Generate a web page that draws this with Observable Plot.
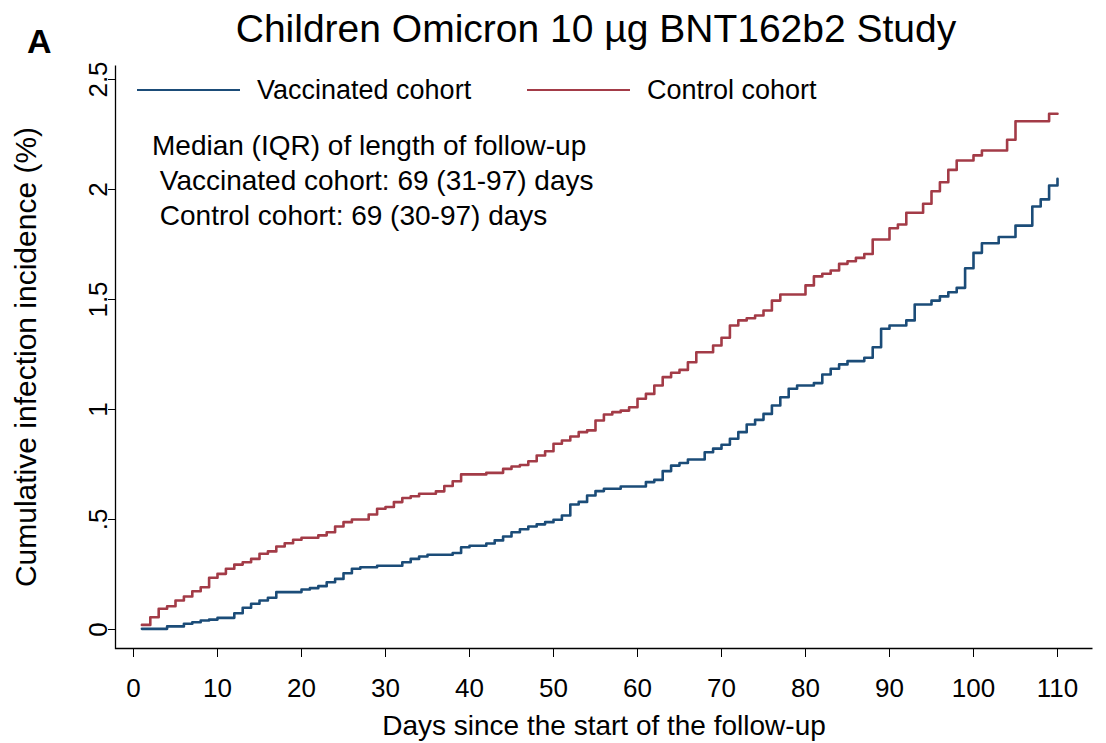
<!DOCTYPE html>
<html>
<head>
<meta charset="utf-8">
<script src="https://cdn.jsdelivr.net/npm/d3@7"></script>
<script src="https://cdn.jsdelivr.net/npm/@observablehq/plot@0.6"></script>
<style>
  body { margin: 0; background: #fff; }
  #wrap { position: relative; width: 1106px; height: 743px; font-family: "Liberation Sans", Arial, sans-serif; color: #000; }
  #panel { position: absolute; left: 27px; top: 24px; font-size: 34px; line-height: 34px; font-weight: bold; }
  #title { position: absolute; left: 0; width: 1192px; top: 10px; text-align: center; font-size: 39px; line-height: 38px; }
  .leg { position: absolute; top: 77px; font-size: 27px; line-height: 27px; white-space: nowrap; }
  .sw { position: absolute; top: 89px; height: 0; border-top: 2.6px solid; }
  #note { position: absolute; left: 152px; top: 128px; font-size: 28px; line-height: 35px; white-space: pre; }
  #chart { position: absolute; left: 0; top: 0; }
</style>
</head>
<body>
<div id="wrap">
  <div id="chart"></div>
  <div id="panel">A</div>
  <div id="title">Children Omicron 10 µg BNT162b2 Study</div>
  <div id="legend"></div>
  <div id="note"></div>
</div>
<script>
// ---- data ----
const xTicks = [0, 10, 20, 30, 40, 50, 60, 70, 80, 90, 100, 110];
const yTicks = [0, 0.5, 1, 1.5, 2, 2.5];

const seriesNames = ["Vaccinated cohort", "Control cohort"];
const seriesColors = ["#1b4c78", "#a33b47"];

// Vaccinated cohort: days where the curve steps, and the level after the step (%)
const vaccinatedDays = [1, 4, 6, 7, 8, 9, 10, 12, 13, 14, 15, 16, 17, 20, 21, 22, 23, 24, 25, 26, 27, 29, 32, 33, 34, 35, 38, 39, 40, 42, 43, 44, 45, 46, 47, 48, 49, 50, 51, 52, 53, 54, 55, 56, 58, 61, 62, 63, 64, 65, 66, 68, 69, 70, 71, 72, 73, 74, 75, 76, 77, 78, 79, 81, 82, 83, 84, 85, 87, 88, 89, 90, 92, 93, 95, 96, 97, 98, 99, 100, 101, 103, 105, 107, 108, 109, 110];
const vaccinatedValues = [0.003, 0.014, 0.026, 0.033, 0.041, 0.045, 0.053, 0.074, 0.099, 0.117, 0.132, 0.144, 0.170, 0.182, 0.188, 0.197, 0.215, 0.230, 0.256, 0.276, 0.283, 0.290, 0.306, 0.321, 0.332, 0.340, 0.348, 0.374, 0.381, 0.391, 0.405, 0.423, 0.442, 0.456, 0.468, 0.478, 0.488, 0.499, 0.518, 0.568, 0.580, 0.609, 0.629, 0.640, 0.650, 0.670, 0.680, 0.720, 0.745, 0.757, 0.773, 0.806, 0.822, 0.840, 0.867, 0.897, 0.932, 0.953, 0.980, 1.018, 1.056, 1.094, 1.109, 1.120, 1.159, 1.185, 1.205, 1.220, 1.235, 1.283, 1.367, 1.382, 1.405, 1.477, 1.495, 1.514, 1.533, 1.553, 1.642, 1.712, 1.756, 1.784, 1.836, 1.923, 1.955, 2.018, 2.049];

// Control cohort
const controlDays = [1, 2, 3, 4, 5, 6, 7, 8, 9, 10, 11, 12, 13, 14, 15, 16, 17, 18, 19, 20, 22, 23, 24, 25, 26, 28, 29, 30, 31, 32, 33, 34, 36, 37, 38, 39, 42, 44, 45, 46, 47, 48, 49, 50, 51, 52, 53, 54, 55, 56, 57, 58, 59, 60, 61, 62, 63, 64, 65, 66, 67, 69, 70, 71, 72, 73, 74, 75, 76, 77, 80, 81, 82, 83, 84, 85, 86, 87, 88, 90, 91, 92, 94, 95, 96, 97, 98, 100, 101, 104, 105, 109, 110];
const controlValues = [0.021, 0.056, 0.094, 0.106, 0.132, 0.150, 0.174, 0.192, 0.235, 0.253, 0.276, 0.295, 0.306, 0.321, 0.344, 0.355, 0.377, 0.392, 0.408, 0.417, 0.428, 0.442, 0.468, 0.488, 0.500, 0.523, 0.549, 0.557, 0.579, 0.598, 0.606, 0.617, 0.628, 0.652, 0.674, 0.705, 0.712, 0.730, 0.741, 0.748, 0.765, 0.791, 0.810, 0.844, 0.859, 0.877, 0.897, 0.905, 0.950, 0.977, 0.988, 0.995, 1.010, 1.049, 1.071, 1.109, 1.147, 1.167, 1.180, 1.215, 1.260, 1.291, 1.326, 1.382, 1.405, 1.415, 1.427, 1.450, 1.495, 1.523, 1.564, 1.605, 1.617, 1.632, 1.662, 1.674, 1.689, 1.707, 1.773, 1.824, 1.841, 1.894, 1.935, 1.992, 2.033, 2.089, 2.132, 2.155, 2.177, 2.226, 2.310, 2.344, 2.344];

const titleText = "Children Omicron 10 µg BNT162b2 Study";
const xLabel = "Days since the start of the follow-up";
const yLabel = "Cumulative infection incidence (%)";
const noteLines = ["Median (IQR) of length of follow-up", " Vaccinated cohort: 69 (31-97) days", " Control cohort: 69 (30-97) days"];

// ---- build tables ----
const vaccinated = vaccinatedDays.map((d, i) => ({day: d, value: vaccinatedValues[i]}));
const control = controlDays.map((d, i) => ({day: d, value: controlValues[i]}));

const yFmt = d => d === 0 ? "0" : String(d).replace(/^0\./, ".");
const tickFont = '"Liberation Sans Narrow", "Arial Narrow", "Liberation Sans", sans-serif';

const W = 1106, H = 743, mL = 115, mR = 14, mT = 65, mB = 95;
const fw = W - mL - mR, fh = H - mT - mB;

const chart = Plot.plot({
  width: W,
  height: H,
  marginLeft: mL,
  marginRight: mR,
  marginTop: mT,
  marginBottom: mB,
  style: {fontFamily: '"Liberation Sans", Arial, sans-serif', fontSize: "26px", color: "#000", background: "#fff"},
  x: {domain: [0, 110], insetLeft: 18, insetRight: 35},
  y: {domain: [0, 2.5], insetTop: 14, insetBottom: 19},
  marks: [
    Plot.frame({stroke: "#000", strokeWidth: 1.3, strokeDasharray: `0,${fw + fh},${fw + fh}`}),
    Plot.axisX({ticks: xTicks, tickSize: 9, tickPadding: 21, fontSize: 26, fontFamily: tickFont,
      label: xLabel, labelAnchor: "center", labelOffset: 86, labelArrow: "none", stroke: "#000"}),
    Plot.axisY({ticks: yTicks, tickSize: 7, tickPadding: 2, tickRotate: -90, tickFormat: yFmt, fontSize: 26, fontFamily: tickFont,
      label: yLabel, labelAnchor: "center", labelOffset: 101, labelArrow: "none", stroke: "#000"}),
    Plot.line(control, {x: "day", y: "value", curve: "step-after", stroke: seriesColors[1], strokeWidth: 2.6}),
    Plot.line(vaccinated, {x: "day", y: "value", curve: "step-after", stroke: seriesColors[0], strokeWidth: 2.6})
  ]
});
document.getElementById("chart").appendChild(chart);
d3.select(chart).selectAll("[aria-label='y-axis label'] text").style("font-size", "30px");
d3.select(chart).selectAll("[aria-label='x-axis label'] text").style("font-size", "28px");

// ---- title, legend, note ----
document.getElementById("title").textContent = titleText;
const legend = document.getElementById("legend");
const legendSpots = [{line: 137, text: 257}, {line: 527, text: 647}];
seriesNames.forEach((name, i) => {
  const sw = document.createElement("div");
  sw.className = "sw";
  sw.style.left = legendSpots[i].line + "px";
  sw.style.width = "103px";
  sw.style.borderColor = seriesColors[i];
  legend.appendChild(sw);
  const t = document.createElement("div");
  t.className = "leg";
  t.style.left = legendSpots[i].text + "px";
  t.textContent = name;
  legend.appendChild(t);
});
document.getElementById("note").textContent = noteLines.join("\n");
</script>
</body>
</html>
